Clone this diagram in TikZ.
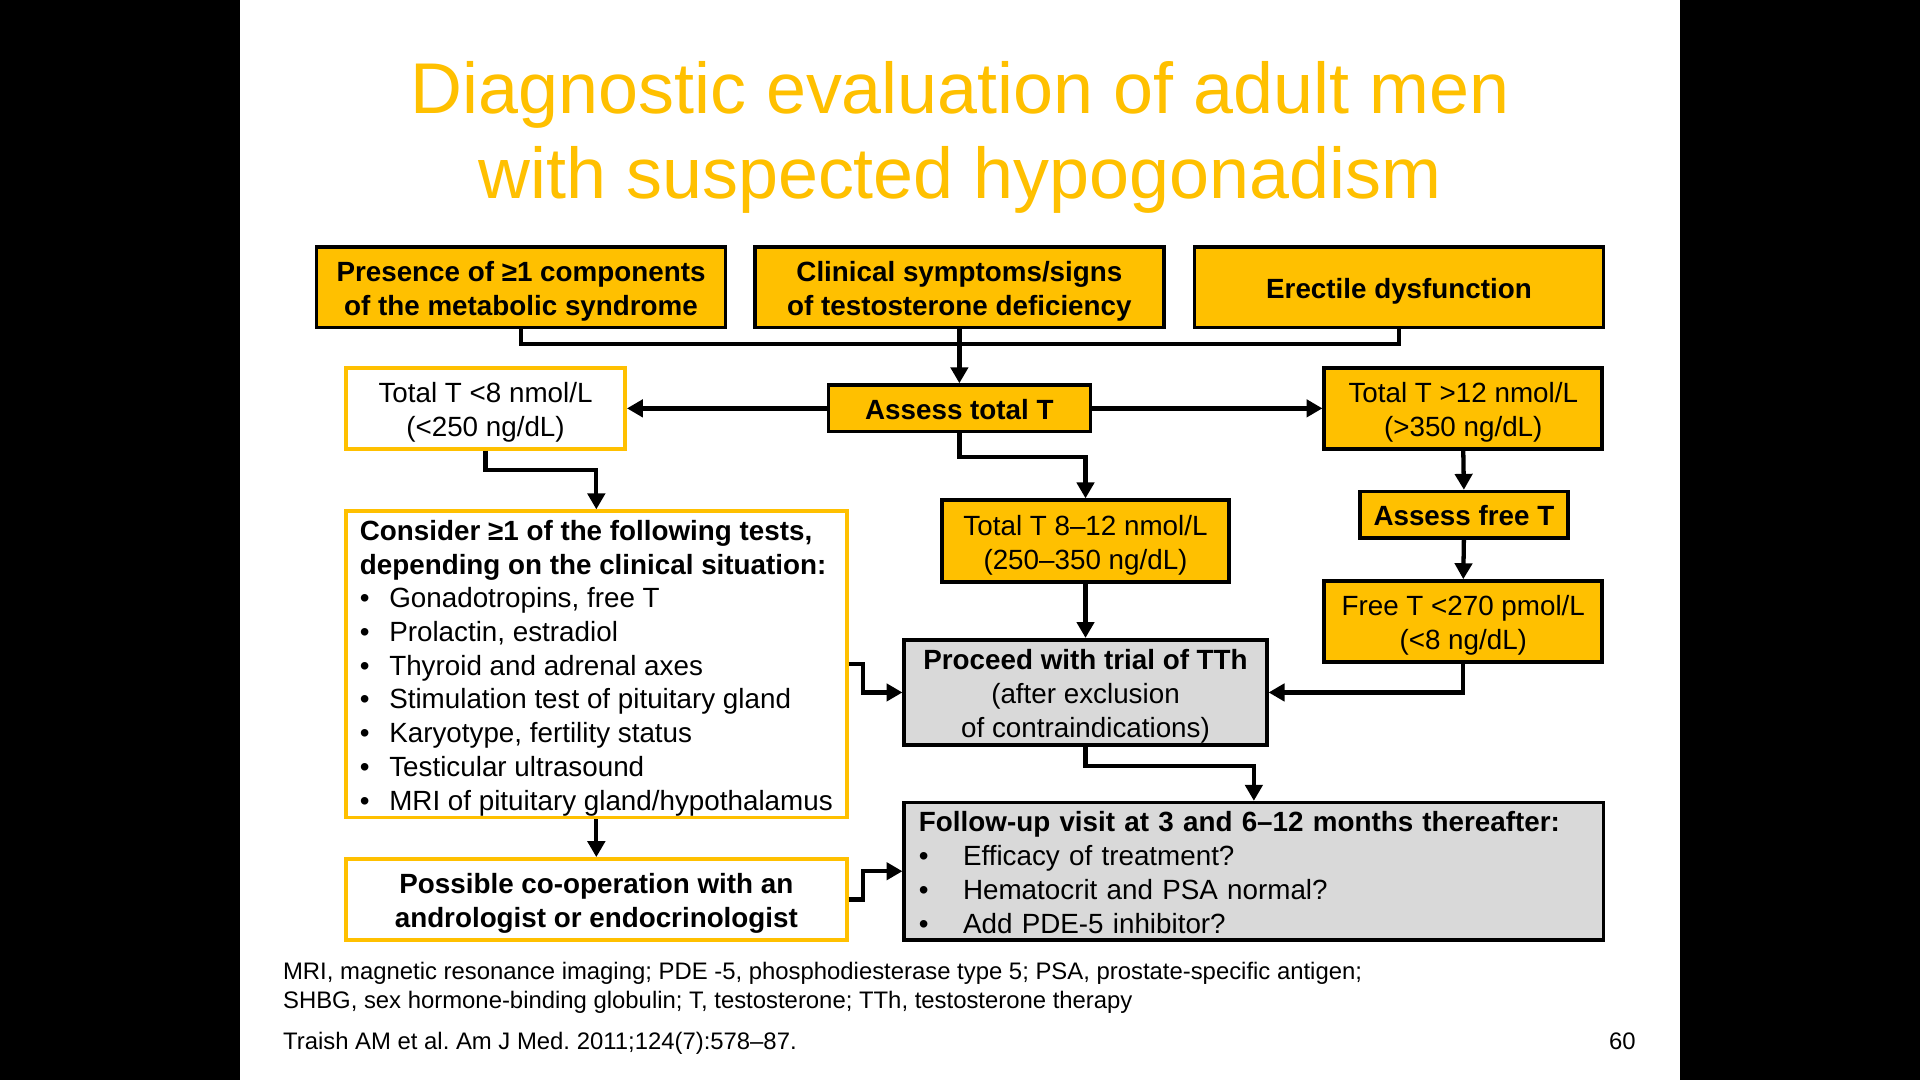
\documentclass[tikz,border=0pt]{standalone}
\usepackage{fontspec}
\setmainfont{Liberation Sans}
\frenchspacing
\usetikzlibrary{arrows.meta}
\definecolor{ygold}{HTML}{FFC000}
\definecolor{lgray}{HTML}{D9D9D9}
\newcommand\bitem[1]{\makebox[24pt][l]{•}#1}
\newcommand\fitem[1]{\makebox[36pt][l]{•}#1}
\newcommand\fs{\rule{0pt}{23pt}}
\begin{document}
\begin{tikzpicture}[x=1pt,y=-1pt,
  basebox/.style={line width=3pt, inner sep=0pt, align=center, text=black,
    execute at begin node={\rule{0pt}{23pt}}, execute at end node={\rule[-5pt]{0pt}{5pt}}},
  ybox/.style={basebox, draw=black, fill=ygold, font=\bfseries\fontsize{22.7}{28}\selectfont},
  yreg/.style={basebox, draw=black, fill=ygold, font=\fontsize{22.7}{28}\selectfont},
  wbox/.style={basebox, draw=ygold, fill=white, font=\fontsize{22.7}{28}\selectfont},
  gbox/.style={basebox, draw=black, fill=lgray, font=\fontsize{22.7}{28}\selectfont},
  link/.style={line width=3.5pt, line join=miter, draw=black},
  arr/.style={link, -{Triangle[length=13pt,width=14pt]}},
  titlefont/.style={font=\fontsize{58.7}{68}\selectfont, text=ygold, inner sep=0pt},
  footfont/.style={font=\fontsize{19.5}{24}\selectfont, inner sep=0pt, text=black}
]
\useasboundingbox (0,0) rectangle (1568,882);
\fill[black] (0,0) rectangle (1568,882);
\fill[white] (196,0) rectangle (1372,882);

% title
\node[titlefont, anchor=base] (t1) at (784,93) {Diagnostic evaluation of adult men};
\node[titlefont, anchor=base] (t2) at (784,162) {with suspected hypogonadism};

% top row
\node[ybox, minimum width=334, minimum height=66] (m) at (425.5,234.5) {\fs Presence of ≥1 components\\of the metabolic syndrome};
\node[ybox, minimum width=334, minimum height=66] (c) at (783.5,234.5) {\fs Clinical symptoms/signs\\of testosterone deficiency};
\node[ybox, minimum width=334, minimum height=66] (e) at (1142.5,234.5) {Erectile dysfunction};

% second row
\node[ybox, minimum width=214, minimum height=38] (a) at (783.5,333.5) {Assess total T};
\node[wbox, minimum width=228, minimum height=66] (lt) at (396.5,333.5) {\fs Total T <8 nmol/L\\(<250 ng/dL)};
\node[yreg, minimum width=227, minimum height=66] (hi) at (1195,333.5) {\fs Total T >12 nmol/L\\(>350 ng/dL)};

\node[ybox, minimum width=170, minimum height=38] (fa) at (1195.5,420.5) {Assess free T};
\node[yreg, minimum width=227, minimum height=66] (ft) at (1195,507.5) {\fs Free T <270 pmol/L\\(<8 ng/dL)};
\node[yreg, minimum width=234, minimum height=67] (mid) at (886.5,442) {\fs Total T 8–12 nmol/L\\(250–350 ng/dL)};

\node[wbox, minimum width=409, minimum height=250, align=left,
      font=\fontsize{22.7}{27.5}\selectfont] (cons) at (487,542.5)
  {\fs\textbf{Consider ≥1 of the following tests,}\\
   \textbf{depending on the clinical situation:}\\
   \bitem{Gonadotropins, free T}\\
   \bitem{Prolactin, estradiol}\\
   \bitem{Thyroid and adrenal axes}\\
   \bitem{Stimulation test of pituitary gland}\\
   \bitem{Karyotype, fertility status}\\
   \bitem{Testicular ultrasound}\\
   \bitem{MRI of pituitary gland/hypothalamus}};

\node[gbox, minimum width=296, minimum height=86] (prc) at (886.5,565.5)
  {\fs\textbf{Proceed with trial of TTh}\\(after exclusion\\of contraindications)};

\node[wbox, minimum width=409, minimum height=66, font=\bfseries\fontsize{22.7}{28}\selectfont] (poss) at (487,734.5)
  {\fs Possible co-operation with an\\andrologist or endocrinologist};

\node[gbox, minimum width=571, minimum height=112, text width=547, inner xsep=12pt, align=left,
      font=\fontsize{22.7}{27.7}\selectfont] (fu) at (1024,711.5)
  {\textbf{Follow-up visit at 3 and 6–12 months thereafter:}\\
   \fitem{Efficacy of treatment?}\\
   \fitem{Hematocrit and PSA normal?}\\
   \fitem{Add PDE-5 inhibitor?}};

% connectors
\coordinate (bus) at (0,281);
\draw[link] (m.south) -- (m.south |- bus) -- (e.south |- bus) -- (e.south);
\draw[arr] (c.south) -- (a.north);
\draw[arr] (a.west) -- (lt.east);
\draw[arr] (a.east) -- (hi.west);
\draw[arr] (a.south) -- ++(0,19) -| (mid.north);
\draw[arr] (lt.south) -- ++(0,16) -| (cons.north);
\draw[arr] (hi.south) -- (fa.north);
\draw[arr] (fa.south) -- (ft.north);
\draw[arr] (mid.south) -- (prc.north);
\draw[arr] (ft.south) |- (prc.east);
\draw[arr] (cons.east) -- ++(12,0) |- (prc.west);
\draw[arr] (cons.south) -- (poss.north);
\draw[arr] (prc.south) -- ++(0,15.5) -| (fu.north);
\draw[arr] (poss.east) -- ++(12,0) |- (fu.west);

% footer
\node[footfont, anchor=base west] (f1) at (231,800) {MRI, magnetic resonance imaging; PDE -5, phosphodiesterase type 5; PSA, prostate-specific antigen;};
\node[footfont, anchor=base west] (f2) at (231,824) {SHBG, sex hormone-binding globulin; T, testosterone; TTh, testosterone therapy};
\node[footfont, anchor=base west] (f3) at (231,857) {Traish AM et al. Am J Med. 2011;124(7):578–87.};
\node[footfont, anchor=base east] (pg) at (1336,857) {60};
\end{tikzpicture}
\end{document}
